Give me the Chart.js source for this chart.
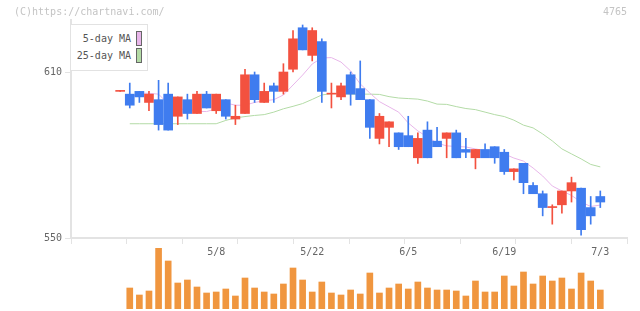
<!DOCTYPE html>
<html>
<head>
<meta charset="utf-8">
<script src="https://cdn.jsdelivr.net/npm/chart.js@4/dist/chart.umd.min.js"></script>
<style>
    html, body { margin: 0; padding: 0; background: #fff; }
    #wrap { position: relative; width: 640px; height: 311px; overflow: hidden; font-family: "DejaVu Sans Mono", monospace; }
    #volume { position: absolute; left: 0; top: 240px; }
    #price { position: absolute; left: 0; top: 0; }
    .note { position: absolute; top: 5px; font-size: 10px; line-height: 14px; color: #c4c4c4; }
    #legend { position: absolute; left: 70px; top: 24px; width: 78px; height: 47px; box-sizing: border-box;
              background: #fff; border: 1px solid #e2e2e2; font-size: 10px; color: #555; }
    .item { position: absolute; right: 5px; height: 15px; line-height: 15px; white-space: nowrap; }
    .swatch { display: inline-block; vertical-align: top; width: 4px; height: 13px; border: 1px solid #666; margin-left: 5px; }
</style>
</head>
<body>
<div id="wrap">
    <canvas id="volume" width="640" height="71"></canvas>
    <canvas id="price" width="640" height="311"></canvas>
    <div class="note" style="left:14px">(C)https://chartnavi.com/</div>
    <div class="note" style="right:13px">4765</div>
    <div id="legend"></div>
</div>
<script>
// 4765 daily candles, 2024-04-19 .. 2024-07-03
const dates = ['4/19','4/22','4/23','4/24','4/25','4/26','4/30','5/1','5/2','5/7',
    '5/8','5/9','5/10','5/13','5/14','5/15','5/16','5/17','5/20','5/21',
    '5/22','5/23','5/24','5/27','5/28','5/29','5/30','5/31','6/3','6/4',
    '6/5','6/6','6/7','6/10','6/11','6/12','6/13','6/14','6/17','6/18',
    '6/19','6/20','6/21','6/24','6/25','6/26','6/27','6/28','7/1','7/2',
    '7/3'];
const opens = [603,602,603,599,600,602,594,600,595,602, 596,600,593,595,609,599,605,603,611,626,
    616,621,602,601,609,604,600,586,590,588, 587,579,589,585,586,588,582,579,582,583,
    581,574,577,569,566,561,562,567,568,561, 565];
const highs = [603,606,603,603,607,606,601,602,603,603, 602,600,598,611,610,606,606,613,625,627,
    626,622,606,606,610,614,600,595,592,588, 594,588,592,590,588,589,586,582,584,583,
    582,575,577,570,567,562,567,572,568,565, 567];
const lows = [603,597,599,596,589,589,591,593,595,597, 595,593,591,595,599,599,599,602,610,618,
    614,599,597,600,598,600,586,584,583,582, 583,577,579,583,579,579,579,575,579,577,
    573,571,566,566,558,555,559,563,551,555, 561];
const closes = [603,598,601,602,591,589,601,595,602,597, 602,594,594,609,600,603,603,610,622,618,
    625,603,602,605,602,600,590,594,592,583, 583,586,579,583,588,579,581,582,579,579,
    574,575,570,566,561,561,567,570,553,558, 563];
const ma5 = [null,600.8,602.3,602.3,602.0,598.5,596.5,596.6,595.8,595.7,
    596.7,598.8,598.0,598.0,599.0,599.6,600.0,601.7,605.3,608.9,
    612.9,615.1,615.2,613.6,610.4,605.7,602.4,599.3,597.4,595.5,
    591.6,588.7,586.5,584.3,583.3,583.1,582.9,582.2,581.6,581.1,
    580.4,578.9,577.8,575.3,572.4,568.8,567.0,565.4,563.0,561.4,
    561.9];
const ma25 = [null,591.3,591.3,591.3,591.3,591.3,591.3,591.3,591.3,591.3,
    591.3,592.5,593.4,593.9,594.3,594.6,595.5,596.7,597.6,598.6,
    600.1,601.7,602.2,602.2,602.0,602.0,602.0,601.9,601.1,600.6,
    600.4,600.2,599.5,598.4,598.3,597.5,596.8,596.4,595.5,594.6,
    593.9,592.6,590.8,589.8,587.6,585.1,582.2,580.4,578.6,576.6,
    575.7];
const volumes = [null,21,14,18,61,48,26,29,22,16,
    17,20,13,31,21,17,15,25,41,29,
    17,27,16,14,19,15,36,16,21,25,
    20,27,21,19,19,18,13,28,17,17,
    33,23,37,25,33,28,31,20,36,28,
    19];
const tickDates = ['5/8', '5/22', '6/5', '6/19', '7/3'];
const priceTicks = [550, 610];

const RED = '#f3513f';
const BLUE = '#3f7cef';
const PINK = '#e8b6ea';
const GREEN = '#b3dba6';
const ORANGE = '#f0963f';
const AXIS = '#e3e3e3';
const FONT = { family: 'DejaVu Sans Mono', size: 10 };

// x range so that candles sit like the original
const X_MIN = -5.12;
const X_MAX = 52.78;
const gridVals = [];
for (let k = 0; k <= 10; k++) gridVals.push(X_MIN + k * (X_MAX - X_MIN) / 10);
const labelVals = dates.map((d, i) => i).filter(i => tickDates.includes(dates[i]));

const idx = dates.map((d, i) => i);
const candleColor = idx.map(i => closes[i] >= opens[i] ? RED : BLUE);

const gridColor = (c) => (c.tick && labelVals.includes(c.tick.value)) ? 'rgba(0,0,0,0)' : AXIS;

new Chart(document.getElementById('price'), {
    data: {
        datasets: [
            {
                type: 'line', label: '5-day MA',
                data: idx.map(i => ({ x: i, y: ma5[i] })),
                borderColor: PINK, backgroundColor: PINK, borderWidth: 1, pointRadius: 0, order: 2
            },
            {
                type: 'line', label: '25-day MA',
                data: idx.map(i => ({ x: i, y: ma25[i] })),
                borderColor: GREEN, backgroundColor: GREEN, borderWidth: 1, pointRadius: 0, order: 3
            },
            {
                type: 'bar', label: 'wick',
                data: idx.map(i => ({ x: i, y: [lows[i], highs[i]] })),
                backgroundColor: candleColor, barThickness: 1, minBarLength: 1, grouped: false, order: 1
            },
            {
                type: 'bar', label: 'body',
                data: idx.map(i => ({ x: i, y: [opens[i], closes[i]] })),
                backgroundColor: candleColor, barThickness: 9, minBarLength: 1, grouped: false, order: 0
            }
        ]
    },
    options: {
        responsive: false,
        animation: false,
        events: [],
        layout: { padding: { top: 20, right: 13, left: 0, bottom: 0 } },
        plugins: { legend: { display: false }, tooltip: { enabled: false } },
        scales: {
            x: {
                type: 'linear', min: X_MIN, max: X_MAX, offset: false,
                afterBuildTicks: s => { s.ticks = gridVals.concat(labelVals).sort((a, b) => a - b).map(v => ({ value: v })); },
                afterFit: s => { s.height = 73; },
                grid: { drawOnChartArea: false, offset: false, tickLength: 6, color: gridColor, tickColor: gridColor },
                border: { color: AXIS, width: 2 },
                ticks: {
                    autoSkip: false, maxRotation: 0, padding: 2, color: '#666', font: FONT,
                    callback: v => labelVals.includes(v) ? dates[v] : ''
                }
            },
            y: {
                min: 550, max: 628.8,
                afterBuildTicks: s => { s.ticks = priceTicks.map(v => ({ value: v })); },
                afterFit: s => { s.width = 71; },
                grid: { drawOnChartArea: false, tickLength: 6, color: AXIS },
                border: { color: AXIS, width: 2 },
                ticks: { padding: 3, color: '#666', font: FONT }
            }
        }
    }
});

new Chart(document.getElementById('volume'), {
    type: 'bar',
    data: {
        datasets: [{
            label: 'volume',
            data: idx.map(i => ({ x: i, y: volumes[i] })),
            backgroundColor: ORANGE, barThickness: 6
        }]
    },
    options: {
        responsive: false,
        animation: false,
        events: [],
        layout: { padding: { top: 8, right: 13, left: 71, bottom: 2 } },
        plugins: { legend: { display: false }, tooltip: { enabled: false } },
        scales: {
            x: { type: 'linear', min: X_MIN, max: X_MAX, offset: false, display: false },
            y: { min: 0, max: 61, display: false }
        }
    }
});

// legend box, text left of the swatch
const legend = document.getElementById('legend');
[['5-day MA', PINK, 6], ['25-day MA', GREEN, 23]].forEach(([name, col, top]) => {
    const div = document.createElement('div');
    div.className = 'item';
    div.style.top = top + 'px';
    div.innerHTML = `${name}<span class="swatch" style="background:${col}"></span>`;
    legend.appendChild(div);
});
</script>
</body>
</html>
